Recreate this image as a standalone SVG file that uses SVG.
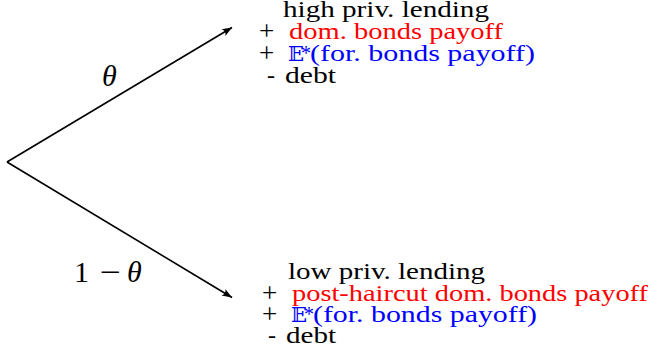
<svg xmlns="http://www.w3.org/2000/svg" width="660" height="352" viewBox="0 0 660 352">
<style>
.t{font-family:"Liberation Serif","Times New Roman",serif;font-size:24px}
.k{fill:#000000}
.r{fill:#ff0000}
.b{fill:#0000ff}
.pl{font-size:27px}
.bb{font-family:"DejaVu Serif","DejaVu Sans",serif;font-size:21px}
.st{font-size:20px}
.lab{font-size:30px}
.it{font-style:italic}
.edge{stroke:#000;stroke-width:1.6;fill:none}
</style>
<defs>
<marker id="ah" markerUnits="userSpaceOnUse" markerWidth="14" markerHeight="10" viewBox="-11 -5 12 10" refX="0" refY="0" orient="auto">
<path d="M0,0 L-10,-3.8 Q-6.5,0 -10,3.8 Z" fill="#000"/>
</marker>
</defs>
<g id="connectors">
<line class="edge" x1="7" y1="162" x2="232" y2="27.5" marker-end="url(#ah)"/>
<line class="edge" x1="7" y1="162" x2="232" y2="297.5" marker-end="url(#ah)"/>
</g>
<g id="label-theta">
<text class="t lab it k" x="102" y="86">θ</text>
</g>
<g id="label-one-minus-theta">
<text class="t lab k" x="74" y="282">1</text>
<text class="t lab k" x="100" y="282" textLength="21" lengthAdjust="spacingAndGlyphs">−</text>
<text class="t lab it k" x="127" y="282">θ</text>
</g>
<g id="node-high">
<text class="t k" x="283" y="17" textLength="206" lengthAdjust="spacingAndGlyphs">high priv. lending</text>
<text class="t pl k" x="259" y="40">+</text>
<text class="t r" x="289" y="39" textLength="214" lengthAdjust="spacingAndGlyphs">dom. bonds payoff</text>
<text class="t pl k" x="259" y="62">+</text>
<text class="t bb b" x="288" y="61">𝔼</text>
<text class="t st b" x="301" y="60">*</text>
<text class="t b" x="310" y="61" textLength="225" lengthAdjust="spacingAndGlyphs">(for. bonds payoff)</text>
<text class="t k" x="267" y="83">-</text>
<text class="t k" x="285" y="83" textLength="51" lengthAdjust="spacingAndGlyphs">debt</text>
</g>
<g id="node-low">
<text class="t k" x="288" y="279" textLength="197" lengthAdjust="spacingAndGlyphs">low priv. lending</text>
<text class="t pl k" x="262" y="302">+</text>
<text class="t r" x="292" y="301" textLength="356" lengthAdjust="spacingAndGlyphs">post-haircut dom. bonds payoff</text>
<text class="t pl k" x="262" y="323">+</text>
<text class="t bb b" x="291" y="322">𝔼</text>
<text class="t st b" x="304" y="321">*</text>
<text class="t b" x="313" y="322" textLength="224" lengthAdjust="spacingAndGlyphs">(for. bonds payoff)</text>
<text class="t k" x="268" y="343">-</text>
<text class="t k" x="286" y="343" textLength="50" lengthAdjust="spacingAndGlyphs">debt</text>
</g>
</svg>
